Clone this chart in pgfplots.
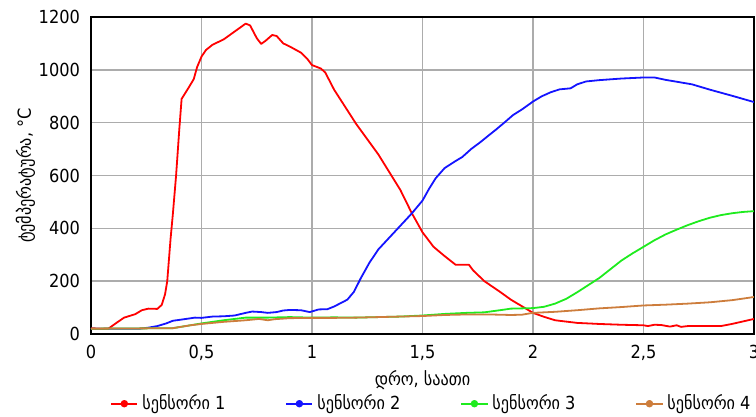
\documentclass[border=0pt]{standalone}
\usepackage{fontspec}
\setmainfont{DejaVu Sans Condensed}
\usepackage{pgfplots}
\pgfplotsset{compat=1.18}
\definecolor{cred}{RGB}{255,0,0}
\definecolor{cblue}{RGB}{20,20,255}
\definecolor{cgreen}{RGB}{30,235,30}
\definecolor{cbrown}{RGB}{205,125,60}
\begin{document}
\begin{tikzpicture}
\begin{axis}[
  scale only axis,
  width=331.5pt, height=158.5pt,
  xmin=0, xmax=3, ymin=0, ymax=1200,
  xtick={0,0.5,1,1.5,2,2.5,3},
  xticklabels={0,{0,5},1,{1,5},2,{2,5},3},
  ytick={0,200,400,600,800,1000,1200},
  yticklabel style={/pgf/number format/1000 sep={}, xshift=-2pt},
  major tick length=0pt,
  /pgf/number format/assume math mode=true,
  ticklabel style={font=\fontsize{9}{10}\selectfont},
  xticklabel style={yshift=-2pt},
  grid=major,
  major grid style={gray!65, line width=0.7pt},
  axis line style={black, line width=0.9pt},
  xlabel={დრო, საათი},
  ylabel={ტემპერატურა, °C},
  label style={font=\fontsize{9}{10}\selectfont},
  xlabel style={yshift=2pt},
  ylabel style={yshift=-5pt},
  legend columns=4,
  legend style={draw=none, fill=none, at={(0.515,-0.165)}, anchor=north, font=\fontsize{9}{10}\selectfont,
    /tikz/every even column/.append style={column sep=28pt}},
  legend image code/.code={\draw[#1] (0cm,0cm) -- (0.46cm,0cm); \fill[#1] (0.23cm,0cm) circle (1.4pt);},
  every axis plot/.append style={line width=0.9pt, line join=round, mark=none},
]
\addplot[cred] coordinates {
(0,22) (0.05,20) (0.08,21) (0.12,45) (0.15,62) (0.2,75) (0.23,90) (0.26,96) (0.3,95) (0.32,110)
(0.335,150) (0.345,200) (0.36,360) (0.37,450) (0.385,600) (0.4,780) (0.41,890) (0.44,930) (0.465,965)
(0.48,1010) (0.5,1050) (0.52,1075) (0.55,1095) (0.6,1115) (0.65,1145) (0.7,1175) (0.72,1168) (0.75,1120)
(0.77,1098) (0.79,1110) (0.82,1132) (0.84,1128) (0.87,1100) (0.9,1088) (0.95,1065) (0.98,1040) (1.0,1018)
(1.04,1005) (1.06,990) (1.1,925) (1.15,860) (1.2,795) (1.3,680) (1.4,545) (1.45,460) (1.5,385) (1.55,330)
(1.6,295) (1.65,262) (1.68,262) (1.71,262) (1.73,240) (1.78,200) (1.85,160) (1.9,130) (1.95,105) (2.0,80)
(2.05,65) (2.1,52) (2.2,42) (2.3,38) (2.4,35) (2.5,33) (2.52,30) (2.55,35) (2.58,34) (2.62,28) (2.65,33)
(2.67,27) (2.7,30) (2.8,30) (2.85,30) (2.9,38) (3.0,57)};
\addlegendentry{სენსორი 1}
\addplot[cblue] coordinates {
(0,20) (0.22,20) (0.26,24) (0.3,30) (0.34,40) (0.37,50) (0.43,57) (0.47,62) (0.5,61) (0.55,66) (0.6,67)
(0.65,70) (0.7,80) (0.73,85) (0.77,83) (0.8,80) (0.84,83) (0.87,89) (0.9,91) (0.95,90) (0.99,83) (1.03,93)
(1.07,94) (1.1,104) (1.16,130) (1.19,160) (1.22,210) (1.26,270) (1.3,320) (1.35,365) (1.4,410) (1.45,455)
(1.5,505) (1.53,550) (1.56,590) (1.6,628) (1.65,655) (1.68,670) (1.72,700) (1.76,725) (1.8,752) (1.83,772)
(1.87,800) (1.91,829) (1.95,850) (2.0,880) (2.04,900) (2.08,915) (2.12,926) (2.17,930) (2.2,945) (2.24,956)
(2.3,961) (2.4,967) (2.5,971) (2.55,971) (2.6,962) (2.65,955) (2.72,945) (2.8,925) (2.9,902) (3.0,878)};
\addlegendentry{სენსორი 2}
\addplot[cgreen] coordinates {
(0,20) (0.37,22) (0.5,40) (0.6,52) (0.7,62) (0.8,62) (0.9,64) (1.0,62) (1.1,63) (1.2,62) (1.3,64) (1.4,66)
(1.5,70) (1.6,76) (1.7,80) (1.78,82) (1.85,90) (1.9,96) (2.0,98) (2.05,103) (2.1,115) (2.15,133) (2.2,158)
(2.25,185) (2.3,212) (2.35,245) (2.4,278) (2.45,305) (2.5,330) (2.55,355) (2.6,377) (2.65,395) (2.7,412)
(2.75,427) (2.8,440) (2.85,450) (2.9,457) (2.95,462) (3.0,465)};
\addlegendentry{სენსორი 3}
\addplot[cbrown] coordinates {
(0,20) (0.37,22) (0.45,33) (0.5,38) (0.6,46) (0.7,52) (0.76,57) (0.8,52) (0.83,56) (0.9,60) (1.0,61)
(1.1,61) (1.2,62) (1.3,64) (1.4,66) (1.5,68) (1.6,72) (1.7,74) (1.8,74) (1.9,72) (1.95,73) (2.0,80) (2.1,84)
(2.2,90) (2.3,97) (2.4,102) (2.5,108) (2.6,111) (2.7,115) (2.8,120) (2.9,128) (3.0,140)};
\addlegendentry{სენსორი 4}
\end{axis}
\pgfresetboundingbox
\path ([shift={(-45.5pt,-41.5pt)}]current axis.south west) rectangle ([shift={(1pt,8.5pt)}]current axis.north east);
\end{tikzpicture}
\end{document}
